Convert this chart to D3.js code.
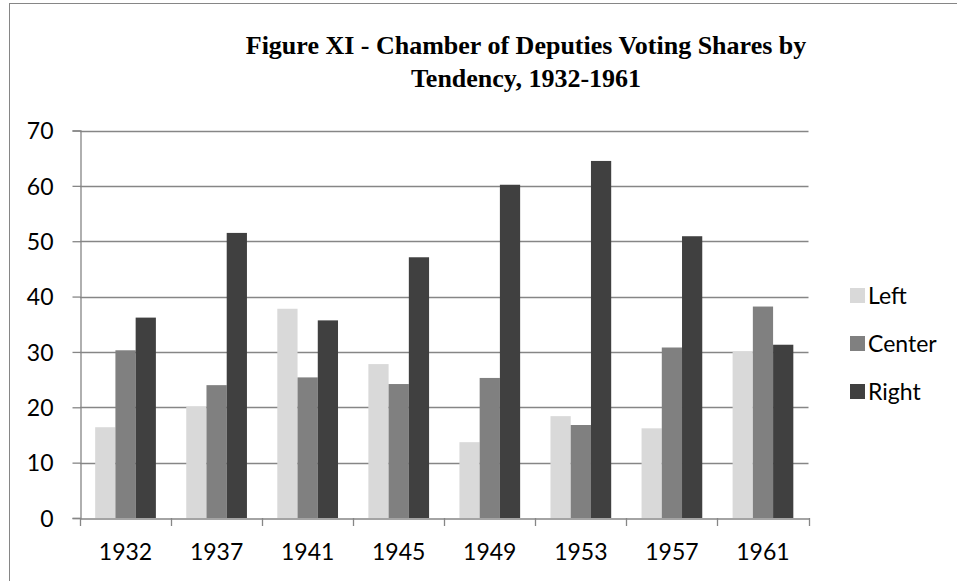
<!DOCTYPE html>
<html>
<head>
<meta charset="utf-8">
<script src="https://cdn.jsdelivr.net/npm/d3@7"></script>
<style>
  html, body { margin: 0; padding: 0; background: #fff; }
  svg { display: block; }
</style>
</head>
<body>
<svg id="chart" width="957" height="581"></svg>
<script>
const categories = ["1932", "1937", "1941", "1945", "1949", "1953", "1957", "1961"];
const seriesNames = ["Left", "Center", "Right"];
const leftValues   = [16.4, 20.1, 37.8, 27.8, 13.7, 18.4, 16.2, 30.1];
const centerValues = [30.3, 24.0, 25.4, 24.2, 25.3, 16.8, 30.8, 38.2];
const rightValues  = [36.2, 51.5, 35.7, 47.1, 60.2, 64.5, 50.9, 31.3];
const yTicks = [0, 10, 20, 30, 40, 50, 60, 70];
const titleLines = ["Figure XI - Chamber of Deputies Voting Shares by", "Tendency, 1932-1961"];

const seriesValues = [leftValues, centerValues, rightValues];
const colors = ["#d9d9d9", "#808080", "#404040"];

const svg = d3.select("#chart");
const plot = { left: 80, right: 808.5, top: 130.5, bottom: 518 };
const axisColor = "#868686";
const labelFont = "Lato, 'Open Sans', sans-serif";
const labelSize = 23;

// outer chart border
svg.append("rect")
  .attr("x", 9.5).attr("y", 3.5)
  .attr("width", 1200).attr("height", 1200)
  .attr("fill", "none").attr("stroke", axisColor).attr("stroke-width", 1);

// title
const title = svg.append("text")
  .attr("text-anchor", "middle")
  .attr("font-family", "'Liberation Serif', 'Times New Roman', serif")
  .attr("font-weight", "bold")
  .attr("font-size", 26)
  .attr("fill", "#000");
titleLines.forEach((t, i) => {
  title.append("tspan").attr("x", 526).attr("y", 54 + i * 33).text(t);
});

const x0 = d3.scaleBand().domain(categories).range([plot.left, plot.right]).paddingInner(0).paddingOuter(0);
const x1 = d3.scaleBand().domain(seriesNames).range([0, x0.bandwidth()]).paddingInner(0).paddingOuter(0.75);
const y = d3.scaleLinear().domain([0, 70]).range([plot.bottom, plot.top]);

// gridlines
svg.append("g")
  .selectAll("line")
  .data(yTicks.filter(d => d > 0))
  .join("line")
  .attr("x1", plot.left).attr("x2", plot.right)
  .attr("y1", d => Math.round(y(d)) + 0.5).attr("y2", d => Math.round(y(d)) + 0.5)
  .attr("stroke", axisColor).attr("stroke-width", 1.3);

// bars
const data = categories.map((c, i) => ({ cat: c, vals: seriesNames.map((s, j) => ({ s, j, v: seriesValues[j][i] })) }));
const groups = svg.append("g").selectAll("g")
  .data(data).join("g")
  .attr("transform", d => `translate(${x0(d.cat)},0)`);
groups.selectAll("rect")
  .data(d => d.vals).join("rect")
  .attr("x", d => x1(d.s))
  .attr("width", x1.bandwidth())
  .attr("y", d => y(d.v))
  .attr("height", d => y(0) - y(d.v))
  .attr("fill", d => colors[d.j]);

// y axis
const yAxis = svg.append("g")
  .attr("transform", `translate(${plot.left + 0.5},0)`)
  .call(d3.axisLeft(y).tickValues(yTicks).tickSize(8).tickPadding(19).tickFormat(d3.format("d")));
yAxis.select(".domain").attr("stroke", axisColor).attr("stroke-width", 1.3);
yAxis.selectAll(".tick line").attr("stroke", axisColor).attr("stroke-width", 1.3);
yAxis.selectAll(".tick text")
  .attr("font-family", labelFont).attr("font-size", labelSize).attr("fill", "#000")
  .attr("dy", "0.36em");

// x axis
const xAxis = svg.append("g")
  .attr("transform", `translate(0,${plot.bottom + 0.5})`)
  .call(d3.axisBottom(x0).tickSize(0).tickPadding(25));
xAxis.select(".domain").attr("stroke", axisColor).attr("stroke-width", 1.3);
xAxis.selectAll(".tick text")
  .attr("font-family", labelFont).attr("font-size", labelSize).attr("fill", "#000");
// category boundary ticks
const boundaries = categories.map(c => x0(c)).concat([plot.right]);
svg.append("g").selectAll("line")
  .data(boundaries).join("line")
  .attr("x1", d => Math.round(d) + 0.5).attr("x2", d => Math.round(d) + 0.5)
  .attr("y1", plot.bottom).attr("y2", plot.bottom + 8)
  .attr("stroke", axisColor).attr("stroke-width", 1.3);

// legend
const legend = svg.append("g");
const legendY = [295.5, 343.5, 391.5];
seriesNames.forEach((s, i) => {
  legend.append("rect")
    .attr("x", 850).attr("y", legendY[i] - 7.5)
    .attr("width", 15).attr("height", 15)
    .attr("fill", colors[i]);
  legend.append("text")
    .attr("x", 868).attr("y", legendY[i])
    .attr("dy", "0.36em")
    .attr("font-family", labelFont).attr("font-size", labelSize).attr("fill", "#000")
    .text(s);
});
</script>
</body>
</html>
